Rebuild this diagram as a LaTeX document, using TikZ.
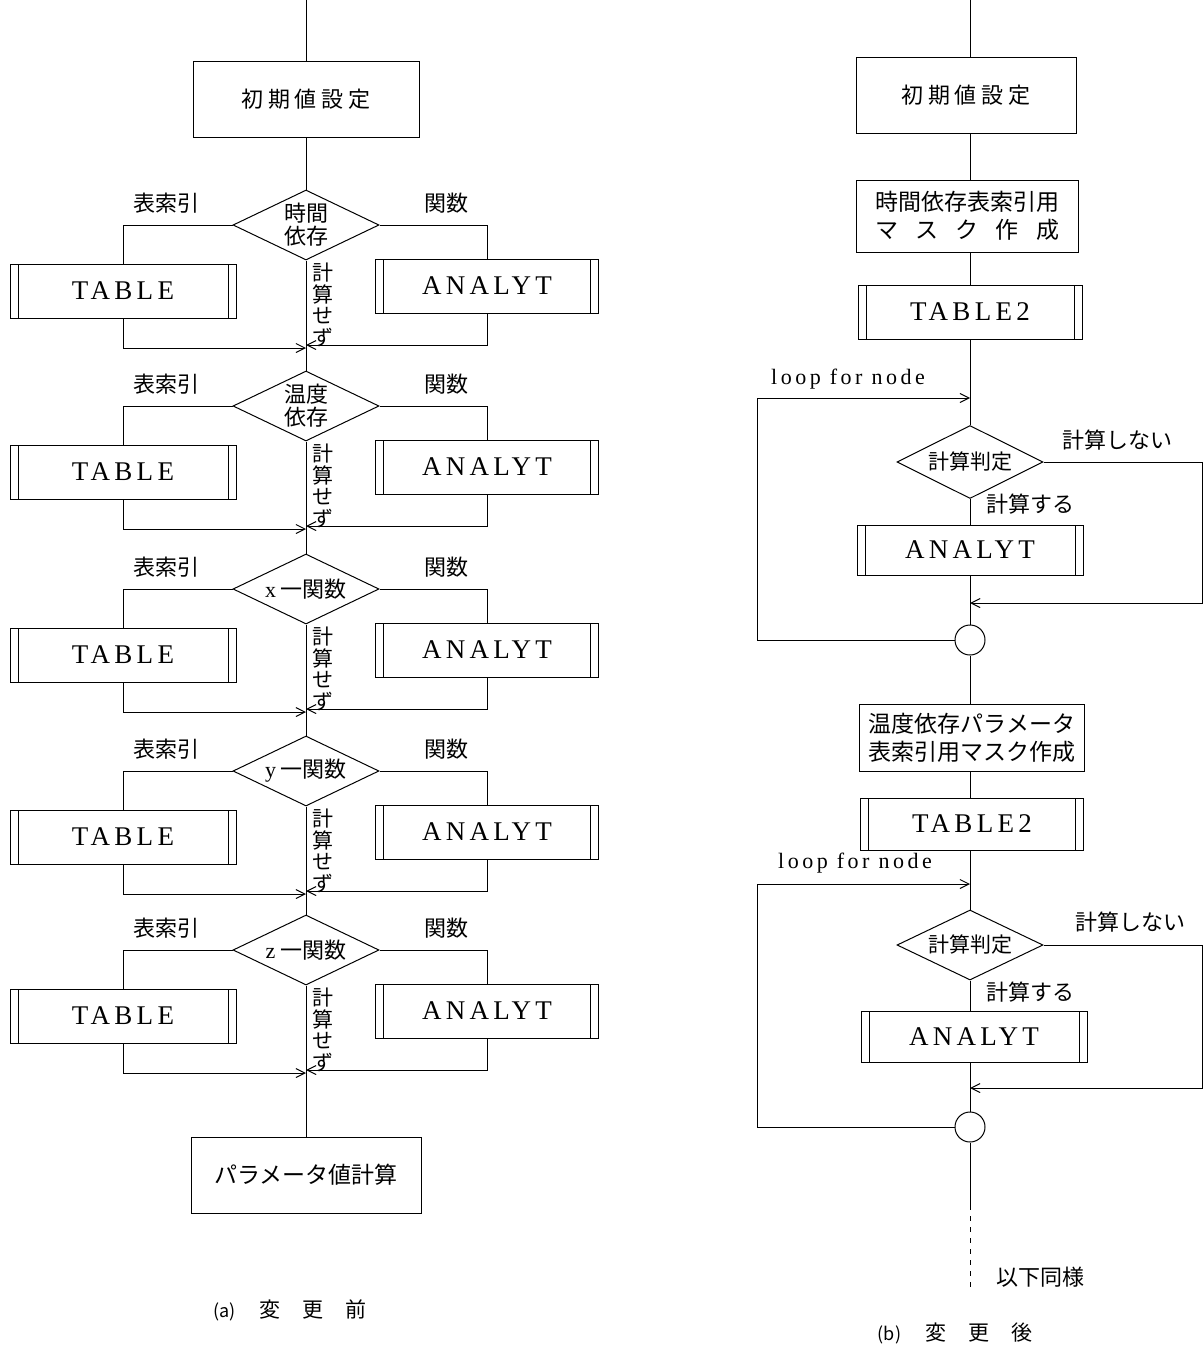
\documentclass[tikz,border=0pt]{standalone}
\usepackage{fontspec}
\setmainfont{Liberation Serif}
\newfontfamily\jp{Noto Sans CJK JP}
\newfontfamily\jpwide[LetterSpace=22]{Noto Sans CJK JP}
\newfontfamily\spaced[LetterSpace=16]{Liberation Serif}
\usetikzlibrary{shapes.geometric,arrows.meta}
\tikzset{
  box/.style={draw,line width=1pt,minimum width=226pt,minimum height=76pt,inner sep=2pt,align=center,font=\jp\fontsize{23}{28}\selectfont},
  dec/.style={draw,line width=1pt,diamond,aspect=2.1,inner sep=0pt,minimum width=146pt,minimum height=70pt,align=center,font=\jp\fontsize{22}{23}\selectfont},
  subr/.style={draw,line width=1pt,minimum width=226pt,minimum height=54pt,font=\spaced\fontsize{27}{30}\selectfont,
    path picture={\draw[line width=1pt] ([xshift=8pt]path picture bounding box.north west) -- ([xshift=8pt]path picture bounding box.south west)
      ([xshift=-8pt]path picture bounding box.north east) -- ([xshift=-8pt]path picture bounding box.south east);}},
  lbl/.style={font=\jp\fontsize{22}{24}\selectfont},
  vlbl/.style={align=center,inner sep=0pt,font=\jp\fontsize{21}{21.5}\selectfont},
  joint/.style={draw,line width=1pt,circle,minimum size=30pt,inner sep=0pt}
}
\begin{document}
\begin{tikzpicture}[x=1pt,y=-1pt,line width=1pt,>={Straight Barb[length=9pt,width=9pt]}]
\useasboundingbox (0,0) rectangle (1204,1352);
% (a) before change
\coordinate (atop) at (306,0);
\node[box,font=\jpwide\fontsize{22}{26}\selectfont] (ainit) at (306,99) {初期値設定};
\foreach \i/\y/\lab in {1/225/{時間\\依存},2/406/{温度\\依存},3/589/{{\rmfamily x} 一関数},4/771/{{\rmfamily y} 一関数},5/950/{{\rmfamily z} 一関数}} {
  \node[dec] (d\i) at (306,\y) {\lab};
  \node[lbl] at (166,\y-22) {表索引};
  \node[lbl] at (446,\y-22) {関数};
  \node[subr] (t\i) at (123,\y+66) {TABLE};
  \node[subr,minimum width=223pt] (f\i) at (487,\y+61) {ANALYT};
  \node[vlbl] at (323,\y+80) {計\\算\\せ\\ず};
  \coordinate (m\i) at (306,\y+123);
  \draw (d\i.west) -| (t\i.north);
  \draw (d\i.east) -| (f\i.north);
  \draw (d\i.south) -- (m\i);
  \draw[->] (t\i.south) |- (m\i);
  \draw[->] (f\i.south) |- ([yshift=3pt]m\i);
}
\draw (atop) -- (ainit.north);
\draw (ainit.south) -- (d1.north);
\foreach \i [evaluate=\i as \j using int(\i+1)] in {1,...,4}
  \draw (m\i) -- (d\j.north);
\node[box,minimum width=230pt] (apar) at (306,1175) {パラメータ値計算};
\draw (m5) -- (apar.north);
\node[font=\jp\fontsize{21}{24}\selectfont] (acap) at (290,1310) {{\fontsize{18}{20}\selectfont(a)}\hspace{24pt}変\hspace{22pt}更\hspace{22pt}前};
% (b) after change
\coordinate (btop) at (970,0);
\node[box,minimum width=220pt,font=\jpwide\fontsize{22}{26}\selectfont] (binit) at (966,95) {初期値設定};
\node[box,minimum width=222pt,minimum height=72pt,inner sep=1pt] (bmask1) at (967,216) {時間依存表索引用\\\makebox[184pt][s]{マ\hfill ス\hfill ク\hfill 作\hfill 成}};
\node[subr,minimum width=224pt] (btab1) at (970,312) {TABLE2};
\coordinate (bl1) at (970,398);
\coordinate (bx1) at (757,398);
\node[dec,minimum height=73pt,font=\jp\fontsize{21}{24}\selectfont] (bj1) at (970,462) {計算判定};
\node[subr,minimum height=50pt] (ban1) at (970,550) {ANALYT};
\coordinate (bm1) at (970,603);
\coordinate (br1) at (1202,603);
\node[joint] (bc1) at (970,640) {};
\node[font=\spaced\fontsize{22}{24}\selectfont] at (848,379) {loop for node};
\node[lbl] at (1117,440) {計算しない};
\node[lbl] at (1030,504) {計算する};
\draw (btop) -- (btop |- binit.north);
\draw (binit.south -| btop) -- (btop |- bmask1.north);
\draw (bmask1.south -| btop) -- (btab1.north);
\draw (btab1.south) -- (bj1.north);
\draw (bj1.south) -- (ban1.north);
\draw (ban1.south) -- (bc1.north);
\draw[->] (bj1.east) -| (br1) -- (bm1);
\draw[->] (bc1.west) -| (bx1) -- (bl1);
\node[box,minimum width=225pt,minimum height=67pt,inner sep=1pt] (bmask2) at (972,738) {温度依存パラメータ\\表索引用マスク作成};
\node[subr,minimum width=223pt,minimum height=52pt] (btab2) at (972,824) {TABLE2};
\coordinate (bl2) at (970,884);
\coordinate (bx2) at (757,884);
\node[dec,minimum height=70pt,font=\jp\fontsize{21}{24}\selectfont] (bj2) at (970,945) {計算判定};
\node[subr,minimum height=51pt] (ban2) at (974,1037) {ANALYT};
\coordinate (bm2) at (970,1088);
\coordinate (br2) at (1202,1088);
\node[joint] (bc2) at (970,1127) {};
\node[font=\spaced\fontsize{22}{24}\selectfont] at (855,863) {loop for node};
\node[lbl] at (1130,922) {計算しない};
\node[lbl] at (1030,992) {計算する};
\draw (bc1.south) -- (bc1.south |- bmask2.north);
\draw (bc1.south |- bmask2.south) -- (bc1.south |- btab2.north);
\draw (bc1.south |- btab2.south) -- (bj2.north);
\draw (bj2.south) -- (bj2.south |- ban2.north);
\draw (bj2.south |- ban2.south) -- (bc2.north);
\draw[->] (bj2.east) -| (br2) -- (bm2);
\draw[->] (bc2.west) -| (bx2) -- (bl2);
\coordinate (bend1) at (970,1205);
\coordinate (bend2) at (970,1292);
\draw (bc2.south) -- (bend1);
\draw[dash pattern=on 5pt off 6pt] (bend1) -- (bend2);
\node[lbl] at (1040,1277) {以下同様};
\node[font=\jp\fontsize{21}{24}\selectfont] (bcap) at (955,1333) {{\fontsize{18}{20}\selectfont(b)}\hspace{24pt}変\hspace{22pt}更\hspace{22pt}後};
\end{tikzpicture}
\end{document}
